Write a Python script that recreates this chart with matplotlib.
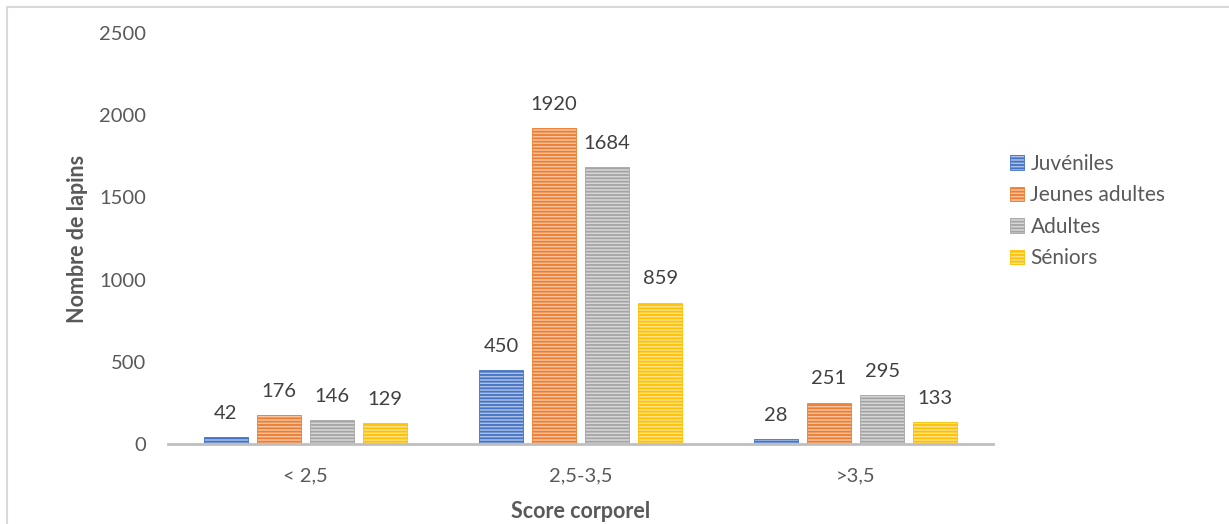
import numpy as np
import matplotlib.pyplot as plt
from matplotlib.patches import Rectangle
from matplotlib.colors import to_rgb

plt.rcParams['font.family'] = ['Lato', 'DejaVu Sans']
plt.rcParams['hatch.linewidth'] = 1.3

categories = ['< 2,5', '2,5-3,5', '>3,5']
series = ['Juvéniles', 'Jeunes adultes', 'Adultes', 'Séniors']
juveniles = [42, 450, 28]
jeunes_adultes = [176, 1920, 251]
adultes = [146, 1684, 295]
seniors = [129, 859, 133]
colors = ['#4472C4', '#ED7D31', '#A5A5A5', '#FFC000']

values = [juveniles, jeunes_adultes, adultes, seniors]

def tint(c, k=0.55):
    r, g, b = to_rgb(c)
    return (r + (1 - r) * k, g + (1 - g) * k, b + (1 - b) * k)

fig = plt.figure(figsize=(12.29, 5.24), dpi=100)
ax = fig.add_axes([0.1367, 0.1527, 0.6713, 0.7843])

x = np.arange(len(categories))
step = 0.193
width = 0.16
for i, (name, vals, col) in enumerate(zip(series, values, colors)):
    pos = x + (i - 1.5) * step
    bars = ax.bar(pos, vals, width, facecolor=tint(col), edgecolor=col,
                  hatch='-----', linewidth=0.6, label=name)
    for b, v in zip(bars, vals):
        ax.annotate(str(v), (b.get_x() + b.get_width() / 2, v),
                    xytext=(0, 11), textcoords='offset points',
                    ha='center', va='bottom', fontsize=14.5, color='#404040')

ax.set_xlim(-0.5, 2.5)
ax.set_ylim(0, 2500)
ax.set_yticks([0, 500, 1000, 1500, 2000, 2500])
ax.set_xticks(x)
ax.set_xticklabels(categories)
ax.tick_params(length=0, labelsize=14.5, colors='#595959')
ax.tick_params(axis='x', pad=17)
ax.tick_params(axis='y', pad=16)
for s in ['top', 'right', 'left']:
    ax.spines[s].set_visible(False)
ax.spines['bottom'].set_color('#BFBFBF')
ax.spines['bottom'].set_linewidth(2)

ax.set_xlabel('Score corporel', fontsize=15.5, fontweight='bold', color='#595959', labelpad=12)
ax.set_ylabel('Nombre de lapins', fontsize=15.5, fontweight='bold', color='#595959', labelpad=8)

ax.legend(loc='center left', bbox_to_anchor=(1.01, 0.567), frameon=False,
          fontsize=15, labelcolor='#595959', handlelength=0.7, handleheight=0.7,
          handletextpad=0.3, labelspacing=0.55, borderaxespad=0)

# outer frame of the chart area
fig.patches.append(Rectangle((7 / 1229, -0.1), 1.2, (524 - 7) / 524 + 0.1,
                             transform=fig.transFigure, fill=False,
                             edgecolor='#D9D9D9', linewidth=1.5))

fig.savefig('out.png', dpi=100)
